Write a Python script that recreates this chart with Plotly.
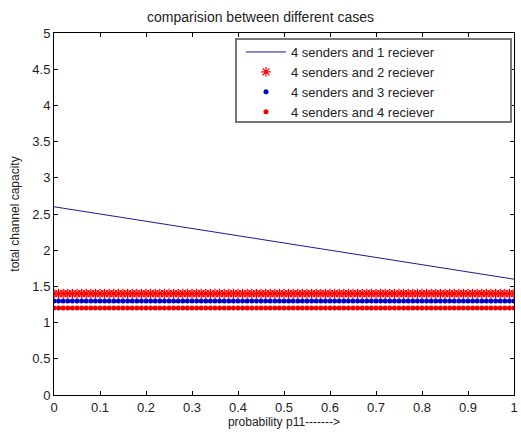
import plotly.graph_objects as go

# ---- data ----
p11 = [i / 100 for i in range(101)]          # probability p11 grid (0 .. 1 step 0.01)
p_line = [0.0, 0.5, 1.0]
cap_1rx = [2.6, 2.1, 1.6]                     # 4 senders and 1 reciever
cap_2rx = [1.4] * len(p11)                    # 4 senders and 2 reciever
cap_3rx = [1.3] * len(p11)                    # 4 senders and 3 reciever
cap_4rx = [1.2] * len(p11)                    # 4 senders and 4 reciever
names = ["4 senders and 1 reciever", "4 senders and 2 reciever",
         "4 senders and 3 reciever", "4 senders and 4 reciever"]
x_ticks = [0, 0.1, 0.2, 0.3, 0.4, 0.5, 0.6, 0.7, 0.8, 0.9, 1]
x_tick_text = ["0", "0.1", "0.2", "0.3", "0.4", "0.5", "0.6", "0.7", "0.8", "0.9", "1"]
y_ticks = [0, 0.5, 1, 1.5, 2, 2.5, 3, 3.5, 4, 4.5, 5]
y_tick_text = ["0", "0.5", "1", "1.5", "2", "2.5", "3", "3.5", "4", "4.5", "5"]

W, H = 521, 437
L, R, T, B = 54, 7, 33, 42
PW, PH = W - L - R, H - T - B

def px(x):
    return (x - L) / PW

def py(y):
    return (H - B - y) / PH

FONT = "Liberation Sans, Arial, sans-serif"

fig = go.Figure()
fig.add_trace(go.Scatter(x=p_line, y=cap_1rx, mode="lines", name=names[0],
                         line=dict(color="#1a1a9a", width=1)))
fig.add_trace(go.Scatter(x=p11, y=cap_2rx, mode="markers", name=names[1],
                         marker=dict(symbol="asterisk-open", size=8, color="#ff0000",
                                     line=dict(color="#ff0000", width=1.2))))
fig.add_trace(go.Scatter(x=p11, y=cap_3rx, mode="markers", name=names[2],
                         marker=dict(symbol="circle", size=5, color="#0000cc")))
fig.add_trace(go.Scatter(x=p11, y=cap_4rx, mode="markers", name=names[3],
                         marker=dict(symbol="circle", size=5, color="#ee0000")))

axis_common = dict(showline=True, linecolor="black", linewidth=1, mirror="ticks",
                   ticks="inside", ticklen=4, tickcolor="black", showgrid=False,
                   zeroline=False, automargin=False,
                   tickfont=dict(family=FONT, size=13, color="#222"))

fig.update_xaxes(range=[0, 1], tickmode="array", tickvals=x_ticks, ticktext=x_tick_text,
                 title=dict(text="probability p11------->", font=dict(family=FONT, size=12, color="#222"),
                            standoff=4),
                 **axis_common)
fig.update_yaxes(range=[0, 5], tickmode="array", tickvals=y_ticks, ticktext=y_tick_text,
                 title=dict(text="total channel capacity", font=dict(family=FONT, size=12, color="#222"),
                            standoff=10),
                 **axis_common)

fig.add_shape(type="rect", xref="paper", yref="paper",
              x0=px(236), x1=px(511), y0=py(122), y1=py(39),
              line=dict(color="#777", width=2), fillcolor="white", layer="above")

fig.update_layout(
    width=W, height=H,
    margin=dict(l=L, r=R, t=T, b=B, autoexpand=False),
    paper_bgcolor="white", plot_bgcolor="white",
    title=dict(text="comparision between different cases", x=0.5, xanchor="center",
               y=1 - 17 / H, yanchor="middle",
               font=dict(family=FONT, size=14, color="#222")),
    legend=dict(x=px(241), y=py(37), xanchor="left", yanchor="top",
                bgcolor="rgba(0,0,0,0)", borderwidth=0,
                font=dict(family=FONT, size=13, color="#222"),
                itemwidth=40, tracegroupgap=0),
    showlegend=True,
)

fig.write_html("out.html", config={"displayModeBar": False},
               post_script="document.body.style.margin='0';document.body.style.overflow='hidden';")
